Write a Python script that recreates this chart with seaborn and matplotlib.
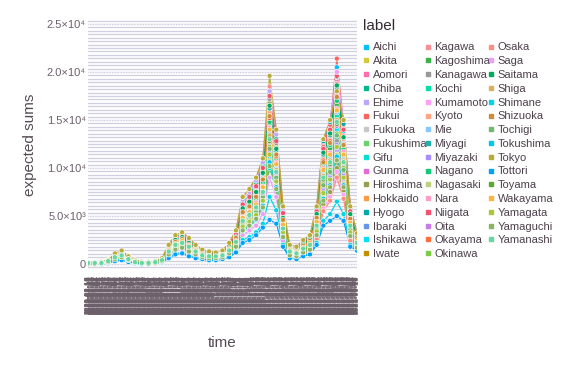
import matplotlib
matplotlib.use("Agg")
import matplotlib.pyplot as plt
from matplotlib.lines import Line2D
from matplotlib.ticker import MultipleLocator
import pandas as pd
import seaborn as sns

sns.set_theme(style="white")
plt.rcParams["font.family"] = ["Liberation Sans", "DejaVu Sans"]

# ── data (expected sums, in hundreds) ─────────────────────────────────────────
START = "2020-02-16"
N_POINTS = 41            # one sample every 12 days
STEP_DAYS = 12
N_DAYS = 481             # one category label per day on the x axis

aichi     = [0,1,1,3,8,10,6,3,1,1, 2,4,15,24,28,21,15,11,9,9, 10,17,28,55,62,72,95,160,115,45, 15,14,20,26,52,118,140,205,138,50,28]
akita     = [1,0,2,2,9,12,5,2,1,0, 2,5,17,27,30,24,17,12,10,10, 12,19,31,62,70,82,100,170,125,52, 17,15,22,27,55,120,135,185,130,55,30]
aomori    = [0,1,1,2,6,8,4,2,1,1, 1,3,11,18,21,17,12,9,7,8, 9,13,21,41,47,55,70,130,100,35, 18,16,23,28,57,125,146,190,142,57,30]
chiba     = [0,0,1,3,10,13,7,3,2,1, 2,5,18,28,31,25,18,13,11,11, 13,20,32,64,72,84,104,178,130,55, 12,10,15,18,36,80,96,130,98,36,20]
ehime     = [1,1,1,2,5,7,4,2,1,1, 2,3,10,16,18,14,11,8,7,7, 13,21,34,67,75,87,106,180,135,58, 10,9,13,16,32,72,86,118,88,32,18]
fukui     = [0,1,2,3,9,11,6,3,2,2, 2,5,16,25,29,22,16,12,10,9, 11,18,29,58,66,76,97,165,120,50, 16,15,21,27,54,122,145,214,145,55,31]
fukuoka   = [0,0,1,2,7,9,5,3,1,1, 2,4,14,22,24,19,14,10,9,8, 10,15,25,50,57,66,82,145,105,42, 14,12,18,22,45,100,118,160,115,45,25]
fukushima = [1,0,1,2,6,8,4,2,1,0, 1,3,12,19,22,18,13,9,8,8, 9,14,22,45,50,58,74,128,95,38, 13,11,16,20,40,90,105,150,108,40,22]
gifu      = [0,1,2,3,8,10,6,3,1,1, 2,4,15,23,26,20,15,11,9,9, 7,11,17,34,39,46,58,100,78,27, 15,13,19,24,48,108,126,172,125,48,26]
gunma     = [0,0,1,2,5,6,3,1,1,0, 1,3,9,14,16,12,9,7,6,6, 10,16,26,52,59,68,86,150,110,44, 17,15,21,26,52,115,132,182,128,52,29]
hiroshima = [1,1,2,3,9,12,7,3,2,1, 3,5,17,26,29,23,17,13,11,10, 12,18,30,60,67,78,96,168,122,50, 9,8,12,15,29,62,75,100,76,28,17]
hokkaido  = [0,1,1,3,7,9,5,2,1,1, 2,4,13,21,23,18,14,10,8,8, 9,15,24,48,54,63,80,140,104,40, 14,12,17,22,44,98,115,162,116,44,24]
hyogo     = [0,0,1,2,6,8,5,2,1,1, 1,3,12,18,20,16,12,9,7,7, 8,13,21,42,48,56,72,125,92,36, 19,17,24,29,58,128,148,195,146,58,31]
ibaraki   = [1,1,1,3,8,11,6,3,1,1, 2,4,15,24,27,21,15,11,9,9, 11,17,27,54,61,70,90,155,112,46, 15,13,20,24,50,110,130,176,126,48,27]
ishikawa  = [0,1,2,4,10,13,7,4,2,2, 3,6,19,29,32,26,19,14,12,12, 8,12,19,38,44,52,64,110,85,30, 12,10,15,19,38,86,100,140,102,38,21]
iwate     = [0,0,1,2,5,7,3,2,1,0, 1,3,10,15,17,13,10,7,6,6, 7,11,18,36,41,48,60,105,80,28, 9,8,12,15,30,68,80,108,80,30,17]
kagawa    = [1,0,1,2,6,7,4,2,1,1, 1,3,11,17,19,15,11,8,7,7, 8,12,20,40,46,53,68,118,88,34, 17,15,22,27,54,118,138,188,134,54,29]
kagoshima = [0,1,1,3,7,10,5,3,1,1, 2,4,14,22,25,19,14,10,8,8, 10,15,25,50,56,65,83,146,108,42, 14,12,18,23,46,102,120,165,118,45,25]
kanagawa  = [0,1,2,3,9,12,7,3,2,1, 2,5,17,26,30,23,17,12,10,10, 12,19,30,61,68,80,98,172,126,52, 11,10,14,18,35,78,92,128,94,34,19]
kochi     = [1,1,1,2,6,9,5,2,1,1, 2,4,13,20,22,17,13,9,8,8, 9,14,23,46,52,60,76,132,98,38, 13,11,16,21,42,94,110,154,110,42,23]
kumamoto  = [0,0,1,2,5,6,3,2,1,1, 1,2,9,14,16,12,9,6,6,5, 12,18,28,58,65,75,95,165,120,48, 8,7,11,14,27,58,70,96,72,26,16]
kyoto     = [0,1,1,3,8,10,6,3,1,1, 2,4,16,24,27,21,16,11,9,9, 11,17,28,56,62,72,92,158,116,46, 16,14,20,25,50,112,132,180,130,50,27]
mie       = [1,0,2,2,7,9,5,2,1,1, 2,4,13,21,24,18,13,10,8,8, 9,14,24,47,53,62,78,136,100,39, 13,12,17,21,43,96,112,158,112,43,24]
miyagi    = [0,1,1,3,9,11,6,3,2,1, 2,5,16,25,28,22,16,12,10,9, 11,17,28,57,64,74,94,162,118,48, 16,14,21,25,52,114,134,184,132,51,28]
miyazaki  = [0,0,1,2,6,7,4,2,1,0, 1,3,11,17,19,15,11,8,7,6, 8,12,20,40,45,52,67,116,86,33, 11,9,14,17,34,76,90,124,92,33,19]
nagano    = [1,1,2,3,8,10,6,3,1,1, 2,4,14,23,26,20,14,11,9,8, 10,16,26,52,58,67,85,148,110,43, 15,13,18,23,47,104,124,170,120,46,26]
nagasaki  = [0,1,1,2,5,7,4,2,1,1, 1,3,10,16,18,14,10,8,6,7, 8,11,19,37,43,50,63,108,82,30, 10,9,13,16,31,70,84,114,84,31,18]
nara      = [0,0,1,3,7,9,5,2,1,1, 2,4,14,22,24,19,14,10,9,8, 10,15,24,49,55,64,81,142,106,41, 14,12,18,22,45,100,116,162,117,44,25]
niigata   = [1,1,1,3,9,12,7,3,2,1, 2,5,17,27,30,24,17,13,10,10, 12,19,31,62,70,81,100,175,128,53, 17,15,22,27,55,120,140,196,140,55,30]
oita      = [0,1,1,2,6,8,4,2,1,1, 1,3,12,19,21,16,12,9,7,7, 9,13,22,43,49,57,73,126,94,37, 12,11,15,19,39,88,102,144,104,39,21]
okayama   = [0,0,2,3,8,11,6,3,1,1, 2,4,15,23,26,21,15,11,9,9, 10,16,27,53,60,70,88,152,112,45, 15,13,19,24,49,108,128,175,124,47,26]
okinawa   = [1,0,1,2,6,8,4,2,1,1, 1,3,12,18,20,16,12,8,7,7, 8,13,21,42,47,55,70,122,90,35, 12,10,15,19,37,84,98,136,100,37,21]
osaka     = [0,1,2,4,10,14,8,4,2,2, 3,6,20,30,33,27,20,15,13,12, 14,22,35,70,78,90,110,185,140,60, 8,7,10,13,26,55,66,90,68,24,15]
saga      = [0,0,1,2,5,6,3,1,1,0, 1,2,8,13,15,11,8,6,5,5, 6,9,15,30,35,40,52,90,70,24, 20,18,25,30,60,130,150,200,150,60,32]
saitama   = [1,1,1,3,8,11,6,3,2,1, 2,5,16,25,28,22,16,12,10,9, 11,18,28,58,65,75,95,165,120,48, 16,14,21,26,52,116,136,186,132,52,28]
shiga     = [0,1,1,2,7,9,5,2,1,1, 2,4,13,20,23,18,13,9,8,8, 9,14,23,46,52,60,76,134,98,38, 13,11,16,20,41,92,108,150,108,41,23]
shimane   = [0,0,1,2,4,5,3,1,0,0, 1,2,7,11,12,9,7,5,4,4, 5,8,13,25,28,33,42,70,56,20, 7,6,9,11,22,45,52,65,52,20,15]
shizuoka  = [1,0,1,3,8,10,6,3,1,1, 2,4,15,23,26,20,15,11,9,9, 10,16,27,54,60,70,88,154,114,46, 15,13,19,24,48,106,126,174,124,47,26]
tochigi   = [0,1,1,2,6,8,4,2,1,1, 1,3,11,18,20,16,11,8,7,7, 8,13,21,42,47,55,70,120,90,35, 12,10,15,18,37,82,96,134,98,36,20]
tokushima = [0,0,1,2,5,7,4,2,1,0, 1,3,10,16,18,14,10,7,6,6, 7,11,18,36,41,48,61,106,80,29, 10,8,12,15,31,68,82,112,82,30,18]
tokyo     = [1,1,2,4,11,14,8,4,2,2, 3,6,20,30,33,27,20,15,13,12, 14,22,35,70,78,90,110,196,140,60, 20,18,25,30,60,130,150,180,150,60,32]
tottori   = [0,0,0,1,3,4,2,1,0,0, 1,2,6,10,11,8,6,5,4,4, 5,7,12,22,25,30,38,46,42,18, 6,5,8,10,20,40,45,50,45,18,14]
toyama    = [0,1,1,2,6,8,5,2,1,1, 2,3,12,19,21,17,12,9,8,7, 9,13,22,44,50,58,74,128,96,37, 12,11,15,19,39,88,104,146,106,39,22]
wakayama  = [1,0,1,3,7,9,5,3,1,1, 2,4,14,21,24,19,14,10,8,8, 9,15,24,48,54,62,80,140,104,41, 14,12,17,22,44,98,114,160,114,43,24]
yamagata  = [0,1,1,2,6,7,4,2,1,1, 1,3,11,17,19,15,11,8,7,7, 8,12,20,39,44,51,66,114,86,33, 11,9,14,17,34,74,88,122,90,33,19]
yamaguchi = [0,0,1,2,5,7,4,2,1,0, 1,3,10,15,17,13,10,7,6,6, 7,11,18,35,40,47,59,102,78,28, 9,8,12,15,30,66,80,108,80,29,17]
yamanashi = [1,1,1,3,7,9,5,2,1,1, 2,4,13,20,22,18,13,9,8,8, 9,14,23,45,51,59,75,130,96,37, 13,11,16,20,40,90,106,148,106,40,22]

series = {
    "Aichi": aichi, "Akita": akita, "Aomori": aomori, "Chiba": chiba,
    "Ehime": ehime, "Fukui": fukui, "Fukuoka": fukuoka, "Fukushima": fukushima,
    "Gifu": gifu, "Gunma": gunma, "Hiroshima": hiroshima, "Hokkaido": hokkaido,
    "Hyogo": hyogo, "Ibaraki": ibaraki, "Ishikawa": ishikawa, "Iwate": iwate,
    "Kagawa": kagawa, "Kagoshima": kagoshima, "Kanagawa": kanagawa, "Kochi": kochi,
    "Kumamoto": kumamoto, "Kyoto": kyoto, "Mie": mie, "Miyagi": miyagi,
    "Miyazaki": miyazaki, "Nagano": nagano, "Nagasaki": nagasaki, "Nara": nara,
    "Niigata": niigata, "Oita": oita, "Okayama": okayama, "Okinawa": okinawa,
    "Osaka": osaka, "Saga": saga, "Saitama": saitama, "Shiga": shiga,
    "Shimane": shimane, "Shizuoka": shizuoka, "Tochigi": tochigi, "Tokushima": tokushima,
    "Tokyo": tokyo, "Tottori": tottori, "Toyama": toyama, "Wakayama": wakayama,
    "Yamagata": yamagata, "Yamaguchi": yamaguchi, "Yamanashi": yamanashi,
}

colors = [
    "#00BFFF", "#D4CA3A", "#FF6DAE", "#00B78D", "#BEA6FF", "#F8665E", "#C8C8C8", "#66D466",
    "#00E0D0", "#E46BDA", "#98A050", "#FF9A47", "#00AAA8", "#6496EE", "#00E0FF", "#C09000",
    "#F88E96", "#38B448", "#999999", "#00E0A8", "#FFA0F6", "#FFA585", "#84C8FF", "#20B2AA",
    "#A88CFF", "#14C87A", "#BCD27A", "#FF9EC8", "#F5506E", "#C77CE8", "#FF6E3C", "#7CCC48",
    "#FF8C82", "#E8A0F8", "#00A860", "#D8B060", "#00D5E5", "#CD8C3C", "#70B870", "#00C5F0",
    "#B8AC38", "#00A0FF", "#5CA832", "#FFB43C", "#A8C83C", "#8CB464", "#64D8A0",
]

y_ticks = [0, 5000, 10000, 15000, 20000, 25000]
y_tick_labels = ["0", "5.0×10³", "1.0×10⁴", "1.5×10⁴", "2.0×10⁴", "2.5×10⁴"]

# ── long table ────────────────────────────────────────────────────────────────
sample_days = [i * STEP_DAYS for i in range(N_POINTS)]
rows = []
for name, vals in series.items():
    for d, v in zip(sample_days, vals):
        rows.append({"day": d, "value": v * 100, "label": name})
df = pd.DataFrame(rows)
palette = dict(zip(series.keys(), colors))

day_labels = pd.date_range(START, periods=N_DAYS, freq="D").strftime("%Y-%m-%d")

# ── figure ────────────────────────────────────────────────────────────────────
W, H = 567, 378
fig = plt.figure(figsize=(W / 100, H / 100), dpi=100)
ax = fig.add_axes([88 / W, 1 - 270 / H, 269 / W, 252 / H])

TICK_C = "#6c606b"
LAB_C = "#564a55"

ax.set_xlim(0, N_DAYS - 1)
ax.set_ylim(-625, 25630)

# dense background rules + major levels
ax.yaxis.set_minor_locator(MultipleLocator(5000 / 14))
ax.grid(which="both", axis="y", color="#D0D0E0", lw=0.95)
ax.grid(which="both", axis="x", visible=False)
for yv in y_ticks:
    ax.axhline(yv, color="white", lw=0.5, ls=(0, (2, 2)), zorder=0.6)
ax.set_axisbelow(True)

sns.lineplot(data=df, x="day", y="value", hue="label", palette=palette,
             lw=0.9, legend=False, ax=ax, zorder=2)
sns.scatterplot(data=df, x="day", y="value", hue="label", palette=palette,
                s=13, edgecolor="white", linewidth=0.4, legend=False, ax=ax, zorder=3)

for s in ax.spines.values():
    s.set_visible(False)

ax.set_yticks(y_ticks)
ax.set_yticklabels(y_tick_labels)
ax.tick_params(axis="y", which="both", length=0, pad=1.5, labelsize=8, labelcolor=TICK_C)

ax.set_xticks(range(N_DAYS))
ax.set_xticklabels(day_labels, rotation=90, fontsize=5.4, fontweight="bold", color=TICK_C)
ax.tick_params(axis="x", length=0, pad=4)
ax.set_xlabel("")
ax.set_ylabel("")

fig.text(30 / W, 1 - 145 / H, "expected sums", rotation=90, ha="center", va="center",
         fontsize=11, color=LAB_C)
fig.text(222 / W, 1 - 343 / H, "time", ha="center", va="center", fontsize=11, color=LAB_C)

# legend
fig.text(363 / W, 1 - 26 / H, "label", ha="left", va="center", fontsize=11, color="#362a35")
handles = [Line2D([], [], ls="", marker="s", markersize=3, color=c, label=n)
           for n, c in palette.items()]
fig.legend(handles=handles, ncol=3, loc="upper left", bbox_to_anchor=(362 / W, 1 - 42.5 / H),
           frameon=False, fontsize=8, labelcolor="#4c404b", borderpad=0, borderaxespad=0,
           handlelength=0.7, handletextpad=0.25, columnspacing=-0.3, labelspacing=0.34)

fig.savefig("out.png", dpi=100)
